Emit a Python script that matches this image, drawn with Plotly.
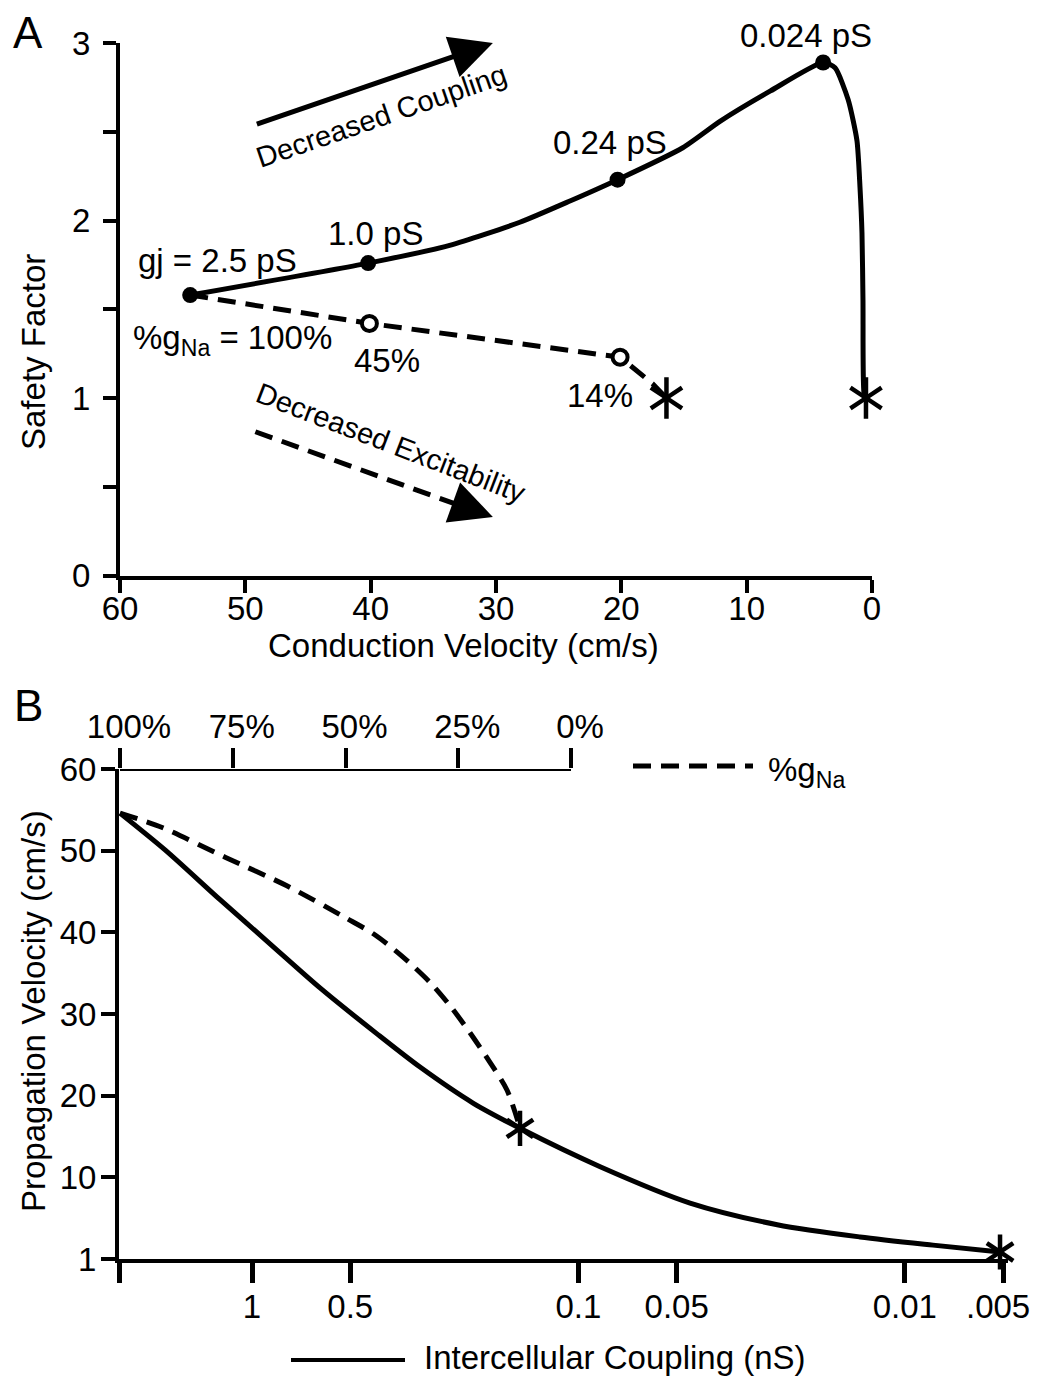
"""
Safety factor vs conduction velocity (A) and propagation velocity vs
coupling / sodium conductance (B).
"""

import plotly.graph_objects as go

# page body adds an 8px margin, so the figure is 8px smaller and all
# layout pixel positions below are given in page coordinates
PAD = 8
W, H = 1038 - PAD, 1376 - PAD
FONT = "Liberation Sans, Arial, sans-serif"

# --- Panel A: reduced gap-junction coupling ---
cv_gj = [54.4, 40.2, 33.7, 28.1, 24.1, 20.3, 15.1, 12.1, 8.1, 3.9,
         2.95, 1.9, 1.2, 0.96, 0.8, 0.72, 0.64, 0.48]
sf_gj = [1.58, 1.76, 1.86, 1.99, 2.11, 2.23, 2.41, 2.56, 2.73, 2.89,
         2.86, 2.68, 2.45, 2.19, 1.93, 1.55, 1.03, 1.0]
gj_dot_cv = [54.4, 40.2, 20.3, 3.9]
gj_dot_sf = [1.58, 1.76, 2.23, 2.89]
gj_labels = ["gj = 2.5 pS", "1.0 pS", "0.24 pS", "0.024 pS"]

# --- Panel A: reduced sodium conductance ---
cv_gna = [54.4, 40.1, 20.1, 19.1, 17.5, 16.4]
sf_gna = [1.58, 1.42, 1.23, 1.17, 1.08, 1.0]
gna_dot_cv = [40.1, 20.1]
gna_dot_sf = [1.42, 1.23]
gna_labels = ["45%", "14%"]

block_cv = [16.4, 0.48]
block_sf = [1.0, 1.0]

# --- Panel B ---
coupling_ns = [2.537, 1.847, 1.253, 0.881, 0.619, 0.415, 0.3057, 0.2104,
               0.151, 0.0858, 0.0455, 0.0246, 0.01372, 0.0082, 0.00511]
vel_coupling = [54.6, 50.1, 44.0, 38.6, 33.2, 27.6, 23.5, 19.1,
                16.0, 11.3, 6.85, 4.2, 2.7, 1.7, 0.86]
pct_gna = [100, 90.5, 76.7, 63.0, 49.7, 43.5, 37.3, 31.3, 26.8,
           22.4, 18.0, 14.2, 11.3]
vel_gna = [54.6, 52.8, 49.2, 45.7, 41.7, 39.7, 37.0, 33.9, 31.0,
           27.7, 24.1, 20.7, 16.0]
block_coupling = [0.151, 0.00511]
block_vel = [16.0, 0.86]

coupling_ticks = [1, 0.5, 0.1, 0.05, 0.01, 0.005]
coupling_ticktext = ["1", "0.5", "0.1", "0.05", "0.01", ".005"]
pct_ticks = [100, 75, 50, 25, 0]
vel_ticks = [0, 10, 20, 30, 40, 50, 60]
vel_ticktext = ["1", "10", "20", "30", "40", "50", "60"]


def px(x):
    return (x - PAD) / W


def py(y):
    return 1 - (y - PAD) / H


DASH = "18px,10px"


def star(fig, x, y, xaxis, yaxis, size):
    for sym in ("y-up", "y-down"):
        fig.add_trace(
            go.Scatter(
                x=x, y=y, xaxis=xaxis, yaxis=yaxis, mode="markers",
                marker=dict(symbol=sym, size=size,
                            line=dict(width=4.5, color="black")),
                cliponaxis=False,
            )
        )


fig = go.Figure()

# Panel A curves
fig.add_trace(go.Scatter(
    x=cv_gna, y=sf_gna, xaxis="x", yaxis="y", mode="lines",
    line=dict(color="black", width=5, dash=DASH),
))
fig.add_trace(go.Scatter(
    x=cv_gj, y=sf_gj, xaxis="x", yaxis="y", mode="lines",
    line=dict(color="black", width=5, shape="spline", smoothing=0.6),
))
fig.add_trace(go.Scatter(
    x=gj_dot_cv, y=gj_dot_sf, xaxis="x", yaxis="y", mode="markers",
    marker=dict(color="black", size=16), cliponaxis=False,
))
fig.add_trace(go.Scatter(
    x=gna_dot_cv, y=gna_dot_sf, xaxis="x", yaxis="y", mode="markers",
    marker=dict(color="white", size=15, line=dict(width=4, color="black")),
))
star(fig, block_cv, block_sf, "x", "y", 26)

# Panel B curves
fig.add_trace(go.Scatter(
    x=pct_gna, y=vel_gna, xaxis="x3", yaxis="y2", mode="lines",
    line=dict(color="black", width=5, dash=DASH, shape="spline", smoothing=0.8),
))
fig.add_trace(go.Scatter(
    x=coupling_ns, y=vel_coupling, xaxis="x2", yaxis="y2", mode="lines",
    line=dict(color="black", width=5, shape="spline", smoothing=0.8),
    cliponaxis=False,
))
star(fig, block_coupling, block_vel, "x2", "y2", 22)

axis_common = dict(
    showline=True, linewidth=4, linecolor="black", ticks="outside",
    tickcolor="black", showgrid=False, zeroline=False, automargin=False,
    tickfont=dict(size=33, color="black", family=FONT),
)

left_val = 100 + (120 - 119) / 4.51
right_val = left_val - (1008 - 119) / 4.51

# the last log tick label sits at the page edge; it is written as an
# annotation below so it can be right-aligned
bottom_ticktext = [" "] + coupling_ticktext[:-1] + [" "]

fig.update_layout(
    width=W, height=H,
    margin=dict(l=0, r=0, t=0, b=0),
    plot_bgcolor="white", paper_bgcolor="white",
    showlegend=False,
    font=dict(family=FONT, color="black", size=33),
    xaxis=dict(
        axis_common, domain=[px(120), px(872)], anchor="y",
        range=[60, 0], tickvals=[60, 50, 40, 30, 20, 10, 0],
        ticklen=13, tickwidth=4, ticklabelstandoff=-12,
    ),
    yaxis=dict(
        axis_common, domain=[py(575.5), py(43)], anchor="x",
        range=[0, 3], tickvals=[0, 0.5, 1, 1.5, 2, 2.5, 3],
        ticktext=["0", " ", "1", " ", "2", " ", "3"],
        ticklen=13, tickwidth=4, ticklabelstandoff=6,
    ),
    xaxis2=dict(
        axis_common, domain=[px(119), px(1008)], anchor="y2", type="log",
        range=[0.4075, -2.316], tickvals=[2.54] + coupling_ticks,
        ticktext=bottom_ticktext,
        ticklen=20, tickwidth=5, ticklabelstandoff=-5,
    ),
    xaxis3=dict(
        axis_common, overlaying="x2", side="top", anchor="y2",
        range=[left_val, right_val], tickvals=pct_ticks,
        ticktext=[f"{p}%" for p in pct_ticks], showline=False,
        ticklen=20, tickwidth=4, ticklabelstandoff=-3, ticklabelshift=-9,
    ),
    yaxis2=dict(
        axis_common, domain=[py(1259), py(769)], anchor="x2",
        range=[0, 60], tickvals=vel_ticks, ticktext=vel_ticktext,
        ticklen=14, tickwidth=4, ticklabelstandoff=-2,
    ),
)

# top %gNa axis line, only spanning 100% to 0%
fig.add_shape(type="line", xref="x3", yref="y2", x0=100, x1=0, y0=60, y1=60,
              line=dict(color="black", width=4))

# legend keys
fig.add_shape(type="line", xref="paper", yref="paper",
              x0=px(633), x1=px(753), y0=py(766), y1=py(766),
              line=dict(color="black", width=5, dash=DASH))
fig.add_shape(type="line", xref="paper", yref="paper",
              x0=px(291), x1=px(405), y0=py(1360), y1=py(1360),
              line=dict(color="black", width=4))

# direction arrows in panel A
fig.add_annotation(
    x=30.25, y=3.0, ax=49.2, ay=2.54, xref="x", yref="y", axref="x", ayref="y",
    text="", showarrow=True, arrowhead=2, arrowsize=1.7, arrowwidth=5,
    arrowcolor="black",
)
fig.add_shape(type="line", xref="x", yref="y", x0=49.2, y0=0.81, x1=32.1, y1=0.374,
              line=dict(color="black", width=5, dash=DASH))
fig.add_annotation(
    x=30.25, y=0.33, ax=32.6, ay=0.39, xref="x", yref="y", axref="x", ayref="y",
    text="", showarrow=True, arrowhead=2, arrowsize=1.7, arrowwidth=5,
    arrowcolor="black",
)

texts = [
    dict(text="A", x=px(28), y=py(32), font=dict(size=44)),
    dict(text="B", x=px(28), y=py(706), font=dict(size=44)),
    dict(text="Safety Factor", x=px(33), y=py(352), textangle=-90),
    dict(text="Conduction Velocity (cm/s)", x=px(463), y=py(645)),
    dict(text="Propagation Velocity (cm/s)", x=px(33), y=py(1011), textangle=-90),
    dict(text="Intercellular Coupling (nS)", x=px(422), y=py(1357), xanchor="left"),
    dict(text="%g<sub>Na</sub>", x=px(766), y=py(772), xanchor="left"),
    dict(text="Decreased Coupling", x=px(381), y=py(116), textangle=-19,
         font=dict(size=29)),
    dict(text="Decreased Excitability", x=px(391), y=py(443), textangle=21,
         font=dict(size=29)),
    dict(text=coupling_ticktext[-1], x=px(1032), y=py(1306), xanchor="right"),
]
for t in texts:
    fig.add_annotation(
        dict(xref="paper", yref="paper", showarrow=False,
             xanchor="center", yanchor="middle", font=dict(size=33)) | t
    )

# point labels (shifted off their markers, in px)
gj_shift = [(27, 35), (7, 30), (-8, 37), (-17, 27)]
for cv, sf, lab, (dx, dy) in zip(gj_dot_cv, gj_dot_sf, gj_labels, gj_shift):
    fig.add_annotation(x=cv, y=sf, xref="x", yref="y", text=lab, showarrow=False,
                       xshift=dx, yshift=dy, font=dict(size=33))

gna_shift = [(18, -37), (-20, -38)]
for cv, sf, lab, (dx, dy) in zip(gna_dot_cv, gna_dot_sf, gna_labels, gna_shift):
    fig.add_annotation(x=cv, y=sf, xref="x", yref="y", text=lab, showarrow=False,
                       xshift=dx, yshift=dy, font=dict(size=33))

fig.add_annotation(x=cv_gna[0], y=sf_gna[0], xref="x", yref="y",
                   text="%g<sub>Na</sub> = 100%", showarrow=False,
                   xshift=42, yshift=-45, font=dict(size=33))

fig.write_html("out.html")
